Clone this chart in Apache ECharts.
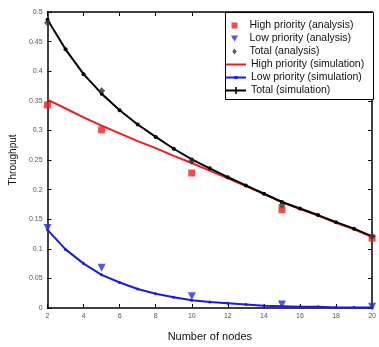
<!DOCTYPE html>
<html>
<head>
<meta charset="utf-8">
<script src="https://cdn.jsdelivr.net/npm/echarts@6/dist/echarts.min.js"></script>
<style>
  html, body { margin: 0; padding: 0; background: #fff; }
  #chart { width: 379px; height: 347px; }
</style>
</head>
<body>
<div id="chart"></div>
<script>
// simulation curves, one value per node count 2..20
const nodes = [2, 3, 4, 5, 6, 7, 8, 9, 10, 11, 12, 13, 14, 15, 16, 17, 18, 19, 20]
const highSim = [0.352, 0.337, 0.322, 0.308, 0.295, 0.282, 0.270, 0.257, 0.245, 0.232, 0.219, 0.206, 0.193, 0.179, 0.167, 0.156, 0.144, 0.133, 0.120]
const lowSim = [0.132, 0.099, 0.075, 0.056, 0.043, 0.032, 0.024, 0.018, 0.013, 0.010, 0.008, 0.006, 0.004, 0.003, 0.002, 0.002, 0.001, 0.001, 0.001]
const totalSim = [0.487, 0.437, 0.395, 0.362, 0.334, 0.310, 0.289, 0.269, 0.251, 0.236, 0.221, 0.207, 0.193, 0.179, 0.168, 0.157, 0.145, 0.134, 0.121]

// analysis points
const analysisNodes = [2, 5, 10, 15, 20]
const highAna = [0.343, 0.301, 0.228, 0.166, 0.118]
const lowAna = [0.135, 0.068, 0.020, 0.006, 0.002]
const totalAna = [0.482, 0.367, 0.248, 0.174, 0.121]

const xTicks = { min: 2, max: 20, interval: 2 }
const yTicks = { min: 0, max: 0.5, interval: 0.05 }

const RED = '#ee1c1c'
const BLUE = '#1c1cd8'
const font = 'Liberation Sans, Arial, sans-serif'
const pair = (xs, ys) => xs.map((x, i) => [x, ys[i]])

const chart = echarts.init(document.getElementById('chart'))

const boxAxis = (extra) => Object.assign({
  type: 'value',
  axisLine: { show: true, onZero: false, lineStyle: { color: '#000', width: 1.5 } },
  axisTick: { show: true, inside: true, length: 4, lineStyle: { color: '#000' } },
  splitLine: { show: false }
}, extra)

// matlab-ish legend: two stacked blocks inside one framed box
const legendBase = {
  orient: 'vertical',
  padding: 0,
  itemWidth: 20,
  itemHeight: 8,
  itemGap: 2,
  z: 6,
  textStyle: { fontSize: 10.5, lineHeight: 8, color: '#111', fontFamily: font }
}

chart.setOption({
  animation: false,
  textStyle: { fontFamily: font },
  grid: { left: 43, right: 4, top: 12, bottom: 34 },
  graphic: [{
    type: 'rect',
    left: 225,
    top: 12,
    shape: { width: 148, height: 87 },
    style: { fill: '#fff', stroke: '#000', lineWidth: 1 },
    z: 5
  }],
  legend: [
    Object.assign({}, legendBase, {
      left: 231,
      top: 20,
      itemHeight: 6,
      data: [
        { name: 'High priority (analysis)', icon: 'path://M0,0h1v1h-1z' },
        { name: 'Low priority (analysis)', icon: 'path://M0,0h2l-1,1.7z' },
        { name: 'Total (analysis)', icon: 'path://M1,0l0.8,1.1l-0.8,1.1l-0.8,-1.1z' }
      ]
    }),
    Object.assign({}, legendBase, {
      left: 226,
      top: 59,
      data: [
        { name: 'High priority (simulation)', icon: 'path://M0,3h20v2h-20z' },
        { name: 'Low priority (simulation)', icon: 'path://M0,3h20v2h-20zM8.5,2.5h3v3h-3z' },
        { name: 'Total (simulation)', icon: 'path://M0,3h20v2h-20zM9.2,0.5h1.6v7h-1.6z' }
      ]
    })
  ],
  xAxis: [
    boxAxis({
      ...xTicks,
      name: 'Number of nodes',
      nameLocation: 'middle',
      nameGap: 23,
      nameTextStyle: { fontSize: 11, color: '#111' },
      axisLabel: { fontSize: 7, color: '#555', margin: 5 }
    }),
    boxAxis({ ...xTicks, position: 'top', axisLabel: { show: false } })
  ],
  yAxis: [
    boxAxis({
      ...yTicks,
      name: 'Throughput',
      nameLocation: 'middle',
      nameGap: 25,
      nameTextStyle: { fontSize: 10, color: '#111' },
      axisLabel: { fontSize: 7, color: '#555', margin: 5 }
    }),
    boxAxis({ ...yTicks, position: 'right', axisLabel: { show: false } })
  ],
  series: [
    {
      name: 'High priority (simulation)',
      type: 'line',
      data: pair(nodes, highSim),
      showSymbol: false,
      symbol: 'none',
      lineStyle: { color: RED, width: 2 },
      itemStyle: { color: RED },
      z: 2
    },
    {
      name: 'Low priority (simulation)',
      type: 'line',
      data: pair(nodes, lowSim),
      symbol: 'circle',
      symbolSize: 3,
      lineStyle: { color: BLUE, width: 2 },
      itemStyle: { color: BLUE },
      z: 2
    },
    {
      name: 'Total (simulation)',
      type: 'line',
      data: pair(nodes, totalSim),
      symbol: 'circle',
      symbolSize: 4,
      lineStyle: { color: '#000', width: 2 },
      itemStyle: { color: '#000' },
      z: 3
    },
    {
      name: 'High priority (analysis)',
      type: 'scatter',
      data: pair(analysisNodes, highAna),
      symbol: 'rect',
      symbolSize: 7,
      itemStyle: { color: '#e82020' },
      z: 4
    },
    {
      name: 'Low priority (analysis)',
      type: 'scatter',
      data: pair(analysisNodes, lowAna),
      symbol: 'triangle',
      symbolRotate: 180,
      symbolSize: 8,
      itemStyle: { color: '#2a2ae0' },
      z: 4
    },
    {
      name: 'Total (analysis)',
      type: 'scatter',
      data: pair(analysisNodes, totalAna),
      symbol: 'diamond',
      symbolSize: 7,
      itemStyle: { color: '#333' },
      z: 4
    }
  ]
})

window.addEventListener('resize', () => chart.resize())
</script>
</body>
</html>
